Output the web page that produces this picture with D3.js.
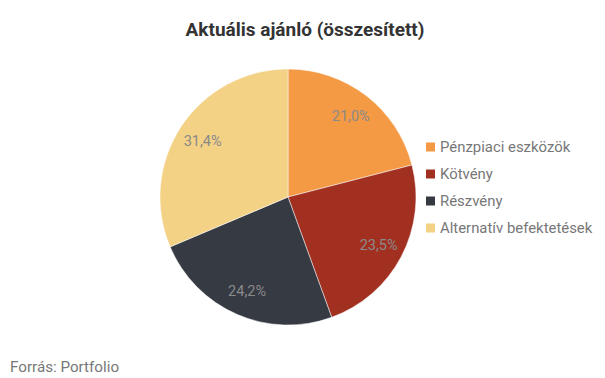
<!DOCTYPE html>
<html><head><meta charset="utf-8">
<script src="https://cdn.jsdelivr.net/npm/d3@7"></script>
<style>body{margin:0;background:#fff;}svg{display:block;font-family:Roboto,"Noto Sans",sans-serif;}</style>
</head><body>
<svg id="c" width="605" height="378"></svg>
<script>
const categories = ["Pénzpiaci eszközök","Kötvény","Részvény","Alternatív befektetések"];
const values = [21.0, 23.5, 24.2, 31.4];
const colors = ["#F49A45","#A23021","#363A43","#F3D185"];
const title = "Aktuális ajánló (összesített)";
const source = "Forrás: Portfolio";

const svg = d3.select("#c");
svg.append("rect").attr("width",605).attr("height",378).attr("fill","#fff");
svg.append("text").attr("x",305).attr("y",36).attr("text-anchor","middle")
  .attr("font-size",19).attr("font-weight","bold").attr("fill","#333").text(title);

const cx=288, cy=197, r=128;
const pie = d3.pie().sort(null).value(d=>d);
const arcs = pie(values);
const arc = d3.arc().innerRadius(0).outerRadius(r);
const labelArc = d3.arc().innerRadius(r*0.8).outerRadius(r*0.8);
const g = svg.append("g").attr("transform",`translate(${cx},${cy})`);
g.selectAll("path").data(arcs).join("path").attr("d",arc)
  .attr("fill",(d,i)=>colors[i]).attr("stroke","#fff").attr("stroke-width",0.5);
const fmt = v => v.toFixed(1).replace(".",",")+"%";
g.selectAll("text").data(arcs).join("text")
  .attr("transform",d=>`translate(${labelArc.centroid(d)})`)
  .attr("text-anchor","middle").attr("dy","0.35em")
  .attr("font-size",14.5).attr("fill","#8a8a8a").text(d=>fmt(d.data));

const lg = svg.append("g").attr("transform","translate(426,147)");
const rows = lg.selectAll("g").data(categories).join("g").attr("transform",(d,i)=>`translate(0,${i*27})`);
rows.append("rect").attr("x",0).attr("y",-4.5).attr("width",9).attr("height",9).attr("fill",(d,i)=>colors[i]);
rows.append("text").attr("x",14).attr("dy","0.35em").attr("font-size",14.9).attr("fill","#777").text(d=>d);

svg.append("text").attr("x",10).attr("y",372).attr("font-size",15.2).attr("fill","#777").text(source);
</script>
</body></html>
